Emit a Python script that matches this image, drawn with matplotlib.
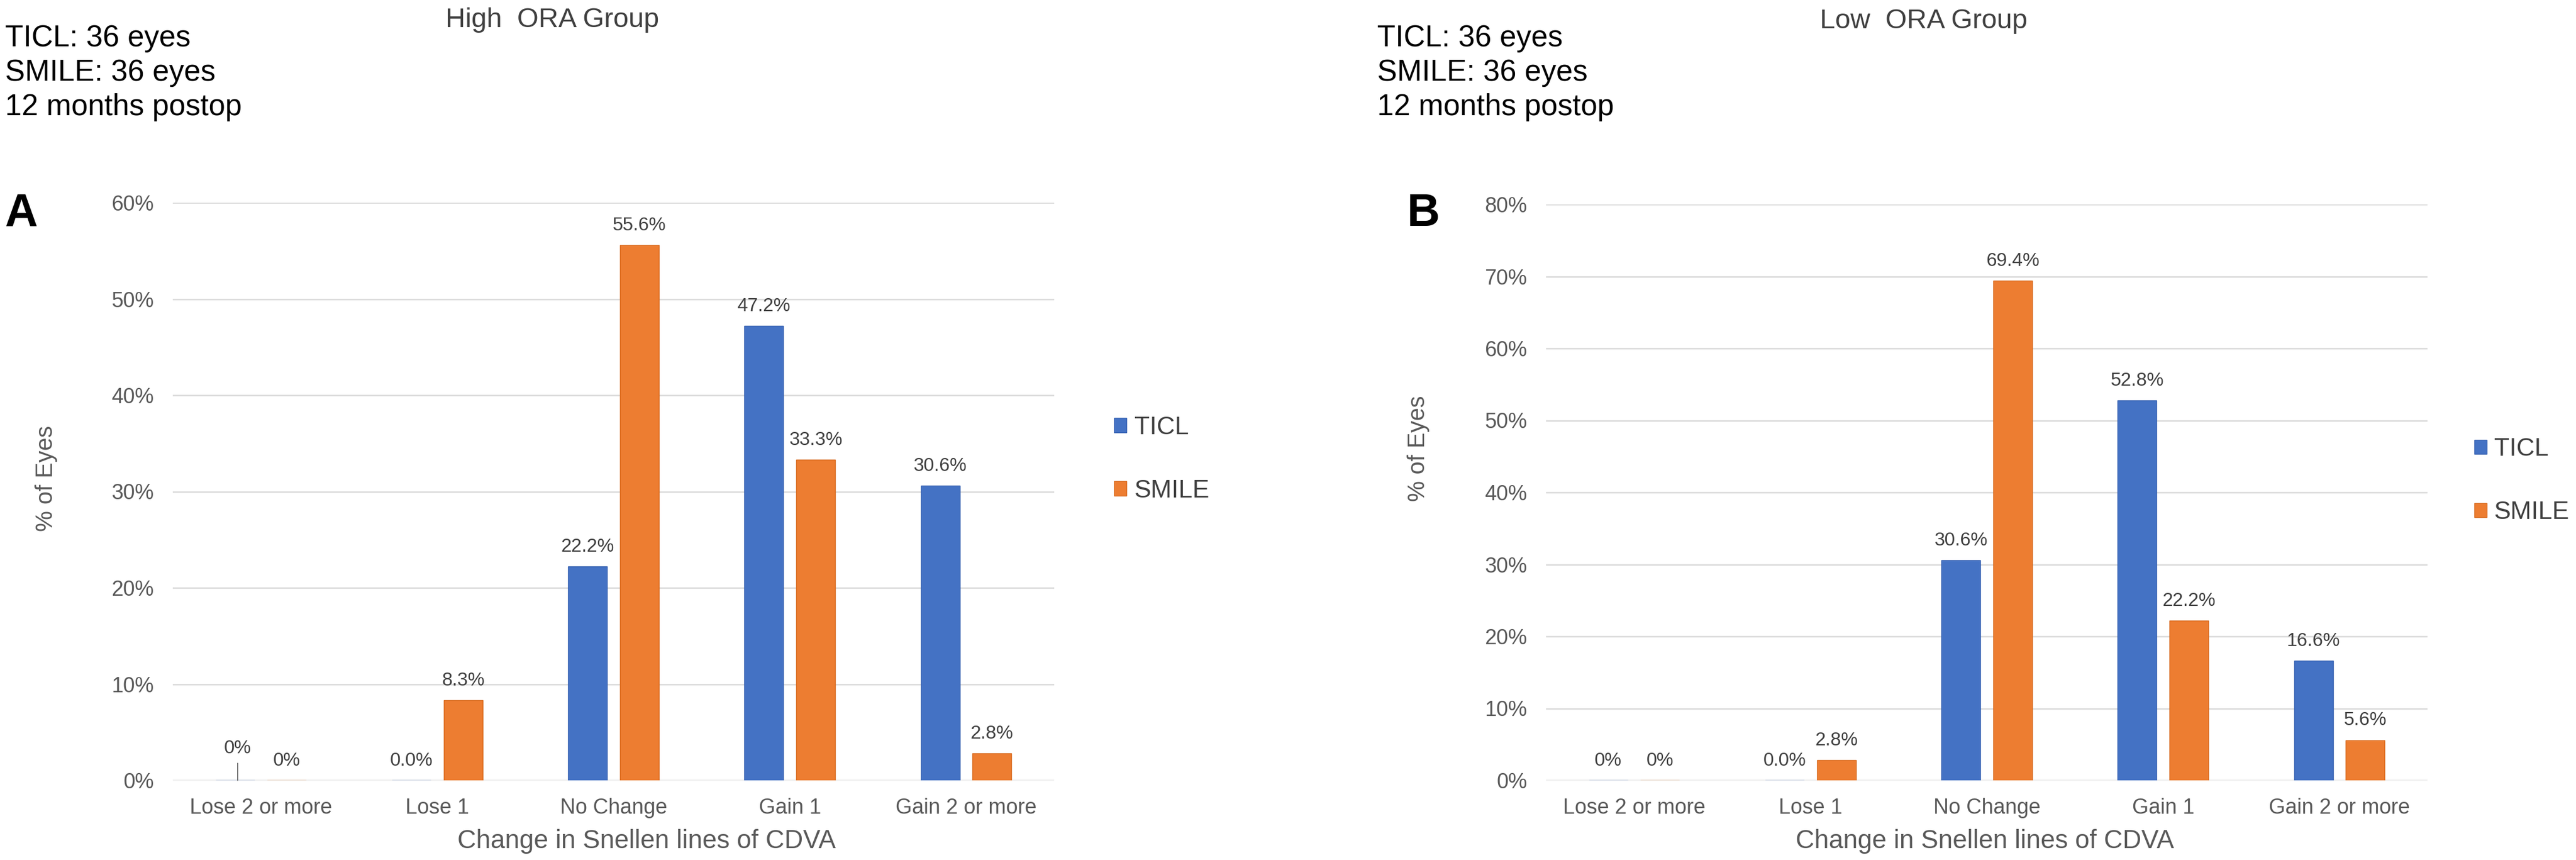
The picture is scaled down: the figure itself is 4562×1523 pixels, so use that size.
import matplotlib
matplotlib.use("Agg")
import matplotlib.pyplot as plt
import numpy as np

plt.rcParams['font.family'] = ['Liberation Sans', 'DejaVu Sans']

# data
categories = ["Lose 2 or more", "Lose 1", "No Change", "Gain 1", "Gain 2 or more"]
series_names = ["TICL", "SMILE"]

high_ticl = [0, 0.0, 22.2, 47.2, 30.6]
high_smile = [0, 8.3, 55.6, 33.3, 2.8]
high_ticl_lbl = ["0%", "0.0%", "22.2%", "47.2%", "30.6%"]
high_smile_lbl = ["0%", "8.3%", "55.6%", "33.3%", "2.8%"]

low_ticl = [0, 0.0, 30.6, 52.8, 16.6]
low_smile = [0, 2.8, 69.4, 22.2, 5.6]
low_ticl_lbl = ["0%", "0.0%", "30.6%", "52.8%", "16.6%"]
low_smile_lbl = ["0%", "2.8%", "69.4%", "22.2%", "5.6%"]

info_lines = ["TICL: 36 eyes", "SMILE: 36 eyes", "12 months postop"]

BLUE = "#4472C4"
ORANGE = "#ED7D31"
GRID = "#D9D9D9"
TXT = "#595959"
DARK = "#404040"

W, H = 4562, 1523
fig = plt.figure(figsize=(W / 100, H / 100), dpi=100)


def px(x, y):
    return x / W, 1 - y / H


def panel(rect, ticl, smile, ticl_lbl, smile_lbl, ymax, leg_anchor, lifted_zero):
    ax = fig.add_axes(rect)
    x = np.arange(len(categories))
    w = 0.221
    off = 0.147
    b1 = ax.bar(x - off, ticl, w, color=BLUE, edgecolor="#3560B0", lw=1, label=series_names[0], zorder=3)
    b2 = ax.bar(x + off, smile, w, color=ORANGE, edgecolor="#D86A1E", lw=1, label=series_names[1], zorder=3)

    for i, (v, s) in enumerate(zip(ticl, ticl_lbl)):
        if lifted_zero and i == 0:
            ax.annotate(s, xy=(x[i] - off + 0.015, 0), xytext=(0, 41), textcoords="offset points",
                        ha="center", va="center", fontsize=24, color=DARK,
                        arrowprops=dict(arrowstyle="-", color=TXT, lw=1.2, shrinkA=6, shrinkB=0))
        else:
            ax.annotate(s, xy=(x[i] - off, v), xytext=(0, 25), textcoords="offset points",
                        ha="center", va="center", fontsize=24, color=DARK)
    for i, (v, s) in enumerate(zip(smile, smile_lbl)):
        ax.annotate(s, xy=(x[i] + off, v), xytext=(0, 25), textcoords="offset points",
                    ha="center", va="center", fontsize=24, color=DARK)

    ax.set_xlim(-0.5, len(categories) - 0.5)
    ax.set_ylim(0, ymax)
    ax.set_yticks(np.arange(0, ymax + 1, 10))
    ax.set_yticklabels([f"{int(t)}%" for t in np.arange(0, ymax + 1, 10)])
    ax.set_xticks(x)
    ax.set_xticklabels(categories)
    ax.tick_params(axis="both", length=0, labelsize=27, labelcolor=TXT)
    ax.tick_params(axis="y", pad=24)
    ax.tick_params(axis="x", pad=22)
    ax.yaxis.grid(True, color=GRID, lw=1.8, zorder=0)
    ax.set_axisbelow(True)
    for sp in ax.spines.values():
        sp.set_visible(False)

    ax.legend(loc="center left", bbox_to_anchor=leg_anchor, frameon=False, fontsize=32,
              handlelength=0.5, handleheight=0.5, handletextpad=0.3, labelspacing=1.6,
              borderaxespad=0, borderpad=0, labelcolor=DARK)
    return ax


axA = panel([306 / W, 1 - 1382 / H, 1561 / W, 1023 / H], high_ticl, high_smile,
            high_ticl_lbl, high_smile_lbl, 60, (1.068, 0.556), True)
axB = panel([2738 / W, 1 - 1382 / H, 1561 / W, 1020 / H], low_ticl, low_smile,
            low_ticl_lbl, low_smile_lbl, 80, (1.053, 0.52), False)

# titles
fig.text(*px(789, 48), "High  ORA Group", fontsize=35, color=DARK, ha="left", va="baseline")
fig.text(*px(3223, 50), "Low  ORA Group", fontsize=35, color=DARK, ha="left", va="baseline")

# corner info
for xs in (9, 2439):
    for k, line in enumerate(info_lines):
        fig.text(*px(xs, 82 + 61 * k), line, fontsize=38, color="black", ha="left", va="baseline")

# panel letters
fig.text(*px(9, 400), "A", fontsize=58, fontweight="bold", ha="left", va="baseline")
fig.text(*px(2492, 400), "B", fontsize=58, fontweight="bold", ha="left", va="baseline")

# axis titles
fig.text(*px(82, 847), "% of Eyes", fontsize=30, color=TXT, rotation=90, ha="center", va="center")
fig.text(*px(2512, 794), "% of Eyes", fontsize=30, color=TXT, rotation=90, ha="center", va="center")
fig.text(*px(1145, 1490), "Change in Snellen lines of CDVA", fontsize=33, color=TXT, ha="center", va="center")
fig.text(*px(3515, 1490), "Change in Snellen lines of CDVA", fontsize=33, color=TXT, ha="center", va="center")

fig.savefig("out.png", dpi=100, facecolor="white")
